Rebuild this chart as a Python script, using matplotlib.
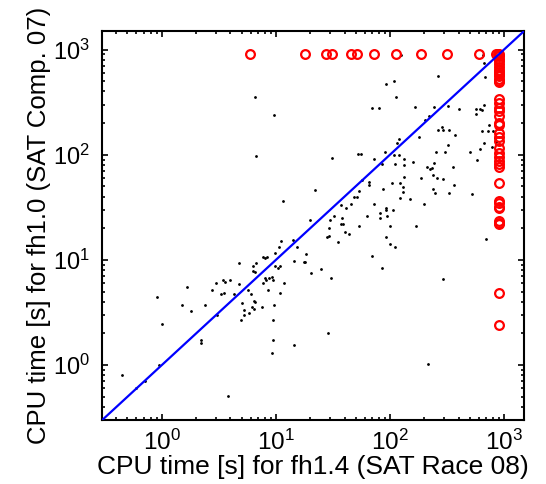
import matplotlib
matplotlib.use('Agg')
import matplotlib.pyplot as plt
import numpy as np

plt.rcParams['font.family'] = ['Liberation Sans', 'DejaVu Sans']
plt.rcParams['mathtext.fontset'] = 'custom'
plt.rcParams['mathtext.rm'] = 'Liberation Sans'
plt.rcParams['mathtext.it'] = 'Liberation Sans'

TIMEOUT = 900
lim = (0.3, 1500)

# solved by both solvers: (fh1.4 time, fh1.0 time)
both_x = [0.45, 0.60, 0.71, 0.95, 0.91, 1.0, 1.49, 1.67, 1.79, 2.2, 2.2, 2.41, 2.76, 3.0,
          3.07, 3.29, 3.47, 3.56, 3.53, 3.83, 4.0, 4.3, 4.75, 4.8, 4.9, 5.0, 5.3, 5.3, 5.7,
          5.8, 6.05, 6.2, 6.3, 6.3, 6.4, 6.4, 6.6, 6.65, 6.6, 7.55, 7.65, 7.7, 8.1, 8.3,
          8.1, 8.2, 8.5, 8.75, 9.25, 9.4, 9.4, 9.5, 9.2, 9.7, 9.75, 9.8, 10.5, 10.9, 10.9,
          11.9, 14.5, 14.5, 18.4, 17.5, 17.9, 20.2, 24.8, 30.4, 28.6, 70, 85.5, 290, 216,
          31.2, 52, 56, 90, 109, 121, 133, 254, 301, 498, 73, 85, 110, 133, 158, 213, 224,
          233, 241, 356, 585, 238, 258, 289, 188, 133, 123, 104, 130, 130, 123, 149, 238,
          250, 326, 363, 525, 198, 87, 65, 65, 54, 57, 22, 11.5, 48, 51, 46, 37, 41, 72,
          93, 93, 106, 81, 81, 94, 63, 32, 30, 38, 37, 39, 20, 29, 53, 100, 40, 44, 29,
          28, 92, 35, 101, 111, 170, 11.1, 14.2, 15.2,
          9.6, 6.7, 10.6, 701, 401, 573, 613, 668, 647, 573, 324, 242, 220, 202, 166, 70,
          80, 283, 261, 292, 330, 180, 370, 324, 121, 116, 735, 642, 724, 801, 829, 858,
          664, 613, 791, 6.5, 126, 92, 108, 113, 261, 668, 687, 655]
both_y = [0.80, 0.60, 0.70, 1.0, 4.4, 2.45, 3.7, 5.5, 3.25, 1.73, 1.63, 3.7, 5.2, 6.0,
          2.98, 4.7, 6.4, 6.1, 4.8, 0.51, 6.4, 4.7, 9.3, 5.9, 2.7, 3.9, 3.35, 2.98, 5.2,
          3.1, 4.7, 3.6, 8.8, 7.9, 4.1, 3.4, 4.0, 9.3, 7.6, 3.6, 6.0, 10.7, 10.4, 10.6,
          6.8, 6.4, 5.2, 6.7, 6.9, 6.4, 2.7, 1.73, 1.31, 3.7, 11.6, 8.8, 8.3, 8.8, 4.8,
          6.0, 9.8, 1.56, 11.5, 9.6, 9.55, 7.45, 8.2, 6.7, 2.0, 10.8, 8.4, 6.6, 1.03,
          94, 101, 102, 107, 99, 99, 92, 107, 107, 107, 91, 81, 81, 80, 86, 76, 73,
          74, 83, 77, 90, 64, 60, 59, 60, 62, 54, 54, 49, 44, 39, 38, 47,
          43, 43, 51, 42, 34, 47, 55, 51, 45, 57, 46, 36, 40, 40, 34, 33, 31, 34,
          31, 30, 30, 28, 25, 26, 26, 26, 24, 25, 22, 22, 24, 20, 21, 21, 18.6, 17.7, 17,
          16.5, 16.6, 14.8, 14.3, 13.3, 20.8, 15.2, 15.4, 13.3,
          241, 97, 13.4, 15.8, 269, 269, 269, 296, 265, 245, 290, 285, 234, 215, 285, 275,
          275, 184, 171, 171, 171, 148, 155, 125, 141, 128, 191, 169, 169, 169, 145, 133,
          128, 113, 119, 350, 881, 475, 500, 355, 561, 752, 542, 881]

# timed out with fh1.0 only (fh1.4 time)
top_x = [5.9, 18, 27.5, 31, 46, 51, 72, 113, 188, 317, 604, 850, 880, 900]
# timed out with fh1.4 only (fh1.0 time)
right_y = [862, 820, 778, 735, 682, 645, 612, 591, 561, 530, 503, 486, 335, 309, 275,
           260, 233, 199, 191, 161, 146, 135, 115, 104, 95, 87, 81, 76, 54, 36, 35, 32,
           31, 23.5, 22.5, 21.8, 4.8, 2.4]

fig = plt.figure(figsize=(5.46, 4.84), dpi=100)
ax = fig.add_axes([0.187, 0.132, 0.773, 0.804])

ax.plot(both_x, both_y, 'k.', markersize=2.0, zorder=3)
ax.plot(top_x, [TIMEOUT] * len(top_x), 'o', mfc='none', mec='red', ms=6.3, mew=1.6, zorder=4)
ax.plot([TIMEOUT] * len(right_y), right_y, 'o', mfc='none', mec='red', ms=6.3, mew=1.6, zorder=4)
ax.plot(lim, lim, color='blue', lw=1.6, zorder=5)

ax.set_xscale('log')
ax.set_yscale('log')
ax.set_xlim(lim)
ax.set_ylim(lim)
ax.set_xticks([1, 10, 100, 1000])
ax.set_yticks([1, 10, 100, 1000])

for s in ax.spines.values():
    s.set_linewidth(1.5)
ax.tick_params(which='both', direction='in', top=True, right=True, width=1.2)
ax.tick_params(which='major', length=4)
ax.tick_params(which='minor', length=2)
ax.tick_params(axis='x', which='major', labelsize=17.5, pad=7)
ax.tick_params(axis='y', which='major', labelsize=17, pad=9)

ax.set_xlabel('CPU time [s] for fh1.4 (SAT Race 08)', fontsize=19, labelpad=0)
ax.set_ylabel('CPU time [s] for fh1.0 (SAT Comp. 07)', fontsize=18.5, labelpad=1)

fig.savefig('out.png', dpi=100)
